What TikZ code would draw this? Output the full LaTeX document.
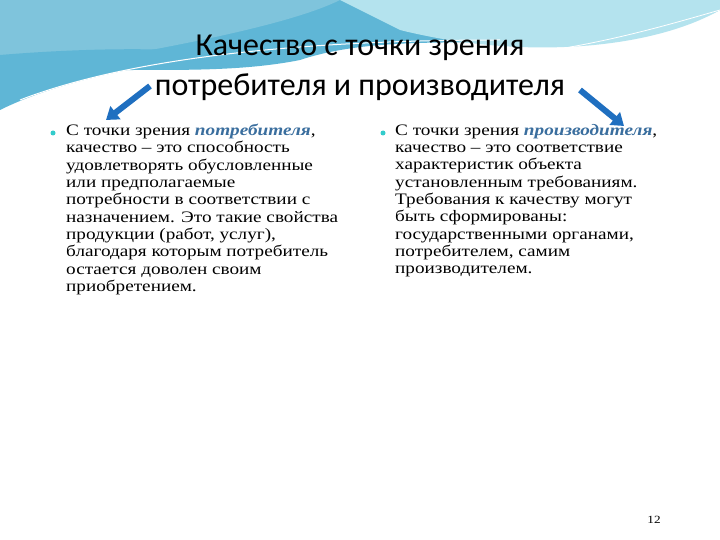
\documentclass[tikz,border=0pt]{standalone}
\usetikzlibrary{arrows.meta}
\usepackage{fontspec}
\setmainfont[FakeStretch=1.2]{Liberation Serif}
\newfontfamily\titlefont{Carlito}
\definecolor{wave1}{HTML}{7FC4DC}
\definecolor{wave2}{HTML}{B4E3EE}
\definecolor{wave3}{HTML}{5FB6D6}
\definecolor{arrowblue}{HTML}{1F6FC0}
\definecolor{kw}{HTML}{3A6E9E}
\definecolor{dot}{HTML}{33CCCC}
\begin{document}
\begin{tikzpicture}[x=1pt,y=-1pt,
  body/.style={anchor=north west,align=left,font=\fontsize{16}{17.3}\selectfont,inner sep=0pt},
  bul/.style={circle,fill=dot,inner sep=0pt,minimum size=5pt},
  bigarrow/.style={arrowblue,line width=6pt,-{Triangle[length=12pt,width=16pt]}}]
\useasboundingbox (0,0) rectangle (720,540);
\fill[white] (0,0) rectangle (720,540);
% background waves
\fill[wave3] (0,0) -- (720,0) -- (720,10) .. controls (600,70) and (420,20) .. (300,60) .. controls (200,80) and (80,60) .. (0,80) -- cycle;
\fill[wave1] (0,0) -- (340,0) .. controls (300,20) and (200,45) .. (0,75) -- cycle;
\fill[wave2] (340,0) -- (720,0) -- (720,10) .. controls (650,50) and (520,60) .. (400,30) .. controls (380,20) and (360,10) .. (340,0) -- cycle;
\fill[wave3] (0,55) .. controls (60,50) and (160,45) .. (240,55) .. controls (160,60) and (60,80) .. (0,110) -- cycle;
\draw[white,line width=1pt] (20,100) .. controls (150,50) and (350,40) .. (500,40);
\draw[white,line width=0.8pt] (430,60) .. controls (550,60) and (650,30) .. (720,10);
% title
\node[font=\titlefont\fontsize{32}{40}\selectfont,align=center] (title) at (360,68) {Качество с точки зрения\\потребителя и производителя};
\coordinate (la) at (150,86); \coordinate (lb) at (106,120);
\coordinate (ra) at (580,90); \coordinate (rb) at (624,126);
\draw[bigarrow] (la) -- (lb);
\draw[bigarrow] (ra) -- (rb);
% bullets and text
\node[bul] (b1) at (53,133) {};
\node[bul] (b2) at (383,133) {};
\node[body] (t1) at (66,124) {С точки зрения \textcolor{kw}{\textit{\textbf{потребителя}}},\\качество – это способность\\удовлетворять обусловленные\\или предполагаемые\\потребности в соответствии с\\назначением. Это такие свойства\\продукции (работ, услуг),\\благодаря которым потребитель\\остается доволен своим\\приобретением.};
\node[body] (t2) at (395,124) {С точки зрения \textcolor{kw}{\textit{\textbf{производителя}}},\\качество – это соответствие\\характеристик объекта\\установленным требованиям.\\Требования к качеству могут\\быть сформированы:\\государственными органами,\\потребителем, самим\\производителем.};
\node[font=\fontsize{11}{12}\selectfont] (num) at (654,520) {12};
\end{tikzpicture}
\end{document}
